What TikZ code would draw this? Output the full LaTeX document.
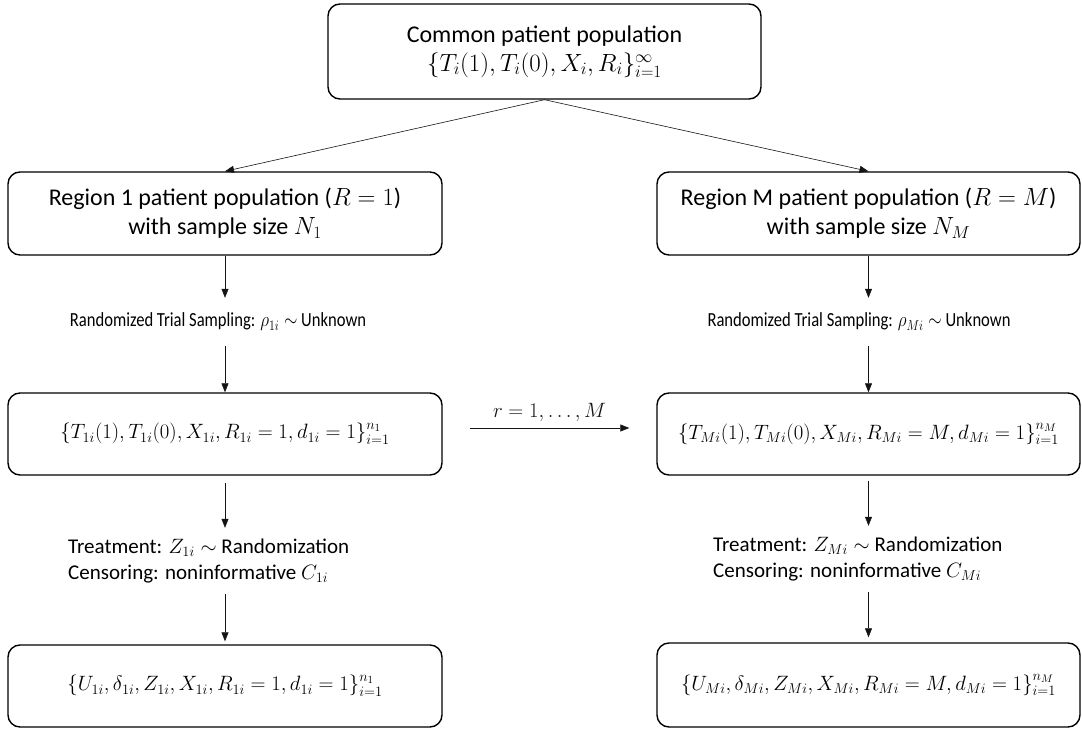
\documentclass[tikz,border=0pt]{standalone}
\usepackage{fontspec}
\setmainfont{Carlito}
\usepackage{amsmath}
\usepackage{tikz}
\usetikzlibrary{arrows.meta, positioning, calc}
\definecolor{mydark}{RGB}{20,20,20}
\tikzset{
  block/.style={rectangle, draw=black, fill=white, align=center,
    font=\fontsize{24}{29}\selectfont, rounded corners=12pt, line width=1.4pt,
    inner sep=0pt},
  setblock/.style={block, font=\fontsize{21}{25}\selectfont},
  steplabel/.style={align=left, inner sep=0pt, font=\fontsize{21}{26}\selectfont},
  samplabel/.style={inner sep=0pt, minimum height=48pt, font=\fontsize{20}{22}\selectfont},
  arrow/.style={-{Triangle[length=9pt,width=7pt]}, line width=0.6pt, color=mydark}
}
\newcommand{\narrow}[1]{\scalebox{0.83}[1]{#1}}
\begin{document}
\begin{tikzpicture}[x=1pt, y=-1pt]
    \useasboundingbox (0,0) rectangle (1082,730);
    \node[block, minimum width=433pt, minimum height=95pt] (top) at (544.5,51.5)
      {Common patient population\\ $\{T_i(1),T_i(0),X_i,R_i\}_{i=1}^{\infty}$};
    \node[block, minimum width=434pt, minimum height=83pt] (reg1) at (225,213.5)
      {Region 1 patient population ($R=1$)\\ with sample size $N_1$};
    \node[block, minimum width=423pt, minimum height=83pt] (regM) at (868.5,213.5)
      {Region M patient population ($R=M$)\\ with sample size $N_M$};
    \node[samplabel] (samp1) at (218,322) {\narrow{Randomized Trial Sampling: $\rho_{1i}\sim$ Unknown}};
    \node[samplabel] (sampM) at (859,322) {\narrow{Randomized Trial Sampling: $\rho_{Mi}\sim$ Unknown}};
    \node[setblock, minimum width=434pt, minimum height=82pt] (mid1) at (225,434)
      {$\{T_{1i}(1),T_{1i}(0),X_{1i},R_{1i}=1,d_{1i}=1\}_{i=1}^{n_1}$};
    \node[setblock, minimum width=423pt, minimum height=82pt] (midM) at (868.5,434)
      {$\{T_{Mi}(1),T_{Mi}(0),X_{Mi},R_{Mi}=M,d_{Mi}=1\}_{i=1}^{n_M}$};
    \node[steplabel, minimum height=66pt, anchor=west] (treat1) at (68,561)
      {Treatment: $Z_{1i}\sim$ Randomization\\ Censoring: noninformative $C_{1i}$};
    \node[steplabel, minimum height=66pt, anchor=west] (treatM) at (713,559)
      {Treatment: $Z_{Mi}\sim$ Randomization\\ Censoring: noninformative $C_{Mi}$};
    \node[setblock, minimum width=434pt, minimum height=82pt] (bot1) at (225,686)
      {$\{U_{1i},\delta_{1i},Z_{1i},X_{1i},R_{1i}=1,d_{1i}=1\}_{i=1}^{n_1}$};
    \node[setblock, minimum width=423pt, minimum height=84pt] (botM) at (868.5,685)
      {$\{U_{Mi},\delta_{Mi},Z_{Mi},X_{Mi},R_{Mi}=M,d_{Mi}=1\}_{i=1}^{n_M}$};

    \draw[arrow] (top.south) -- (reg1.north);
    \draw[arrow] (top.south) -- (regM.north);
    \draw[arrow] (reg1.south) -- (reg1.south |- samp1.north);
    \draw[arrow] (regM.south) -- (regM.south |- sampM.north);
    \draw[arrow] (reg1.south |- samp1.south) -- (mid1.north);
    \draw[arrow] (regM.south |- sampM.south) -- (midM.north);
    \draw[arrow, shorten <=7pt] (mid1.south) -- (mid1.south |- treat1.north);
    \draw[arrow, shorten <=5pt] (midM.south) -- (midM.south |- treatM.north);
    \draw[arrow, shorten >=3pt] (mid1.south |- treat1.south) -- (bot1.north);
    \draw[arrow, shorten >=5pt] (midM.south |- treatM.south) -- (botM.north);
    \draw[arrow, shorten <=27pt, shorten >=27pt] ([yshift=6pt]mid1.east) --
      node[above=3pt, font=\fontsize{20}{22}\selectfont] {$r=1,\dots,M$} ([yshift=6pt]midM.west);
\end{tikzpicture}
\end{document}
